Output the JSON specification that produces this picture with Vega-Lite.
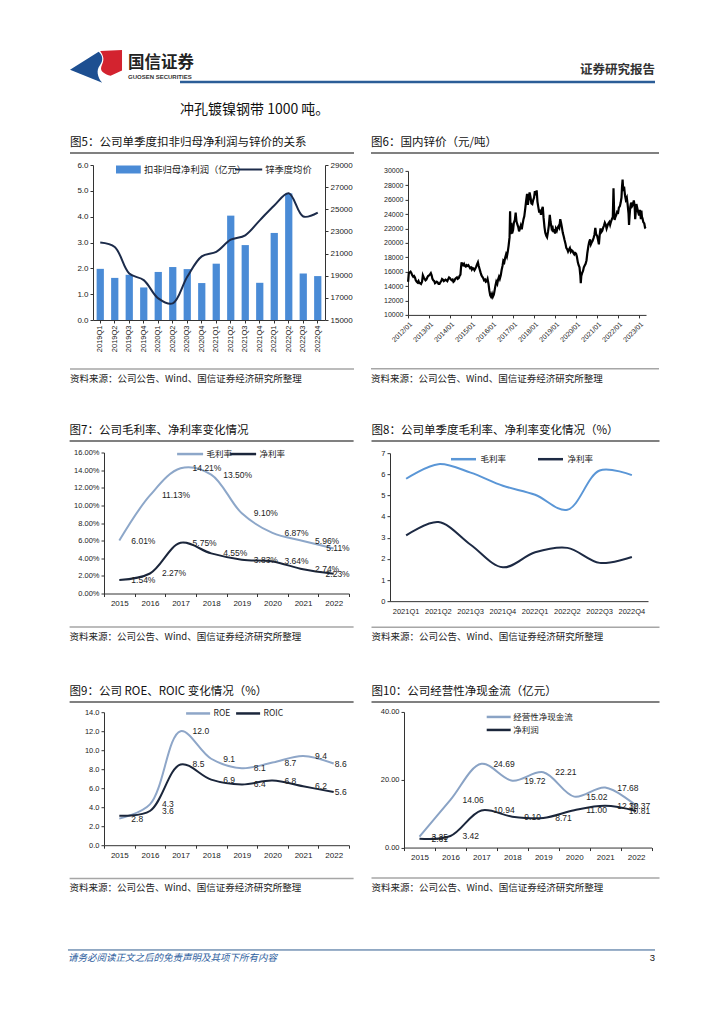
{
"$schema": "https://vega.github.io/schema/vega-lite/v6.json",
"background": "white",
"padding": {"left": 52, "top": 40, "right": 10, "bottom": 5},
"spacing": 0,
"resolve": {"scale": {"color": "independent", "stroke": "independent"}, "legend": {"color": "independent", "stroke": "independent"}},
"vconcat": [
{
 "width": 603, "height": 91,
 "data": {"values": [{}]},
 "layer": [
  {"mark": {"type": "rule", "opacity": 0}, "encoding": {"x": {"datum": 0, "type": "quantitative", "scale": {"domain": [0, 100]}, "axis": null}, "x2": {"datum": 1}, "y": {"datum": 100, "type": "quantitative", "scale": {"domain": [0, 100]}, "axis": null}}},
  {"mark": {"type": "point", "shape": "M-1,0.13 L0.1,-0.57 C0.25,-0.45 0.3,-0.25 0.15,-0.05 C0.0,0.15 0.05,0.4 0.24,0.63 Z", "size": 2704, "filled": true, "color": "#1D4F91", "opacity": 1, "strokeWidth": 0},
   "encoding": {"x": {"datum": 7.3, "type": "quantitative", "scale": {"domain": [0, 100]}, "axis": null}, "y": {"datum": 70.9, "type": "quantitative", "scale": {"domain": [0, 100]}, "axis": null}}},
  {"mark": {"type": "point", "shape": "M0.16,-0.6 L1,-0.63 L1,0.15 L0.56,0.36 C0.35,0.3 0.15,0.2 0.2,0.02 C0.25,-0.15 0.38,-0.3 0.16,-0.6 Z", "size": 2704, "filled": true, "color": "#D3232F", "opacity": 1, "strokeWidth": 0},
   "encoding": {"x": {"datum": 7.3, "type": "quantitative", "scale": {"domain": [0, 100]}, "axis": null}, "y": {"datum": 70.9, "type": "quantitative", "scale": {"domain": [0, 100]}, "axis": null}}},
  {"mark": {"type": "text", "text": "国信证券", "align": "left", "baseline": "middle", "fontSize": 16.5, "fontWeight": "bold", "font": "Noto Sans CJK SC", "color": "#222"},
   "encoding": {"x": {"datum": 12.6, "type": "quantitative", "scale": {"domain": [0, 100]}, "axis": null}, "y": {"datum": 74.7, "type": "quantitative", "scale": {"domain": [0, 100]}, "axis": null}}},
  {"mark": {"type": "text", "text": "GUOSEN SECURITIES", "align": "left", "baseline": "middle", "fontSize": 6, "fontWeight": "bold", "font": "Liberation Sans", "color": "#333"},
   "encoding": {"x": {"datum": 12.6, "type": "quantitative", "scale": {"domain": [0, 100]}, "axis": null}, "y": {"datum": 59.3, "type": "quantitative", "scale": {"domain": [0, 100]}, "axis": null}}},
  {"mark": {"type": "text", "text": "证券研究报告", "align": "right", "baseline": "middle", "fontSize": 12.5, "fontWeight": "bold", "font": "Noto Sans CJK SC", "color": "#333"},
   "encoding": {"x": {"datum": 100, "type": "quantitative", "scale": {"domain": [0, 100]}, "axis": null}, "y": {"datum": 67.0, "type": "quantitative", "scale": {"domain": [0, 100]}, "axis": null}}},
  {"mark": {"type": "rule", "color": "#2B5D97", "strokeWidth": 2.5},
   "encoding": {"x": {"datum": 21.23, "type": "quantitative", "scale": {"domain": [0, 100]}, "axis": null}, "x2": {"datum": 100}, "y": {"datum": 53.8, "type": "quantitative", "scale": {"domain": [0, 100]}, "axis": null}}},
  {"mark": {"type": "text", "text": "冲孔镀镍钢带 1000 吨。", "align": "left", "baseline": "middle", "fontSize": 14, "font": "Noto Sans CJK SC", "color": "#111"},
   "encoding": {"x": {"datum": 21.23, "type": "quantitative", "scale": {"domain": [0, 100]}, "axis": null}, "y": {"datum": 23.1, "type": "quantitative", "scale": {"domain": [0, 100]}, "axis": null}}}
 ]
},
{
 "spacing": 32,
 "resolve": {"scale": {"color": "independent", "stroke": "independent"}, "legend": {"color": "independent", "stroke": "independent"}},
 "vconcat": [
  {
   "spacing": 15,
   "resolve": {"scale": {"color": "independent", "stroke": "independent"}, "legend": {"color": "independent", "stroke": "independent"}},
   "hconcat": [
    {"width": 1, "height": 1, "data": {"values": [{}]}, "layer": [{"mark": {"type": "rule", "opacity": 0}, "encoding": {"x": {"datum": 0, "type": "quantitative", "scale": {"domain": [0, 1]}, "axis": null}, "x2": {"datum": 1}, "y": {"datum": 0.5, "type": "quantitative", "scale": {"domain": [0, 1]}, "axis": null}}}]},
    {
     "spacing": 7,
     "resolve": {"scale": {"color": "independent", "stroke": "independent"}, "legend": {"color": "independent", "stroke": "independent"}},
     "vconcat": [
      {"width": 232, "height": 23, "data": {"values": [{}]},
       "layer": [
        {"mark": {"type": "rule", "opacity": 0}, "encoding": {"x": {"datum": -0.09914, "type": "quantitative", "scale": {"domain": [0, 1]}, "axis": null}, "x2": {"datum": 0}, "y": {"datum": 100, "type": "quantitative", "scale": {"domain": [0, 100]}, "axis": null}}},
        {"mark": {"type": "text", "text": "图5：公司单季度扣非归母净利润与锌价的关系", "align": "left", "baseline": "middle", "fontSize": 11.5, "font": "Noto Sans CJK SC", "color": "#111"}, "encoding": {"x": {"datum": -0.09914, "type": "quantitative", "scale": {"domain": [0, 1]}, "axis": null}, "y": {"datum": 47.8, "type": "quantitative", "scale": {"domain": [0, 100]}, "axis": null}}},
        {"mark": {"type": "rule", "color": "#808080", "strokeWidth": 2}, "encoding": {"x": {"datum": -0.09914, "type": "quantitative", "scale": {"domain": [0, 1]}, "axis": null}, "x2": {"datum": 1.125}, "y": {"datum": 4.35, "type": "quantitative", "scale": {"domain": [0, 100]}, "axis": null}}}
       ]},
      {"width": 232, "height": 155,
       "data": {"values": [
        {"quarter": "2019Q1", "profit": 1.98, "zinc": 22000},
        {"quarter": "2019Q2", "profit": 1.63, "zinc": 21600},
        {"quarter": "2019Q3", "profit": 1.75, "zinc": 19200},
        {"quarter": "2019Q4", "profit": 1.26, "zinc": 18600},
        {"quarter": "2020Q1", "profit": 1.86, "zinc": 16950},
        {"quarter": "2020Q2", "profit": 2.05, "zinc": 16500},
        {"quarter": "2020Q3", "profit": 1.97, "zinc": 18900},
        {"quarter": "2020Q4", "profit": 1.43, "zinc": 20750},
        {"quarter": "2021Q1", "profit": 2.18, "zinc": 21150},
        {"quarter": "2021Q2", "profit": 4.04, "zinc": 22250},
        {"quarter": "2021Q3", "profit": 2.90, "zinc": 22650},
        {"quarter": "2021Q4", "profit": 1.44, "zinc": 24000},
        {"quarter": "2022Q1", "profit": 3.37, "zinc": 25350},
        {"quarter": "2022Q2", "profit": 4.90, "zinc": 26450},
        {"quarter": "2022Q3", "profit": 1.80, "zinc": 24350},
        {"quarter": "2022Q4", "profit": 1.70, "zinc": 24700}
       ]},
       "layer": [
        {"mark": {"type": "bar"},
         "encoding": {
          "x": {"field": "quarter", "type": "ordinal", "scale": {"paddingInner": 0.5, "paddingOuter": 0.25}, "axis": {"labelAngle": -90, "labelOverlap": false, "minExtent": 41, "maxExtent": 41, "labelFontSize": 7.5}},
          "y": {"field": "profit", "type": "quantitative", "scale": {"domain": [0, 6]}, "axis": {"values": [0, 1, 2, 3, 4, 5, 6], "format": ".1f", "labelOverlap": false, "minExtent": 23, "maxExtent": 23}},
          "color": {"datum": "扣非归母净利润（亿元）", "type": "nominal", "scale": {"range": ["#4A8BD6"]}, "legend": {"title": null, "orient": "none", "legendX": 30.4, "legendY": -0.5, "symbolType": "M-3.1,-1L3.1,-1L3.1,1L-3.1,1Z", "symbolSize": 64, "labelOffset": 10.5, "labelFontSize": 9.3}}
         }},
        {"mark": {"type": "line", "interpolate": "catmull-rom", "strokeWidth": 2},
         "encoding": {
          "x": {"field": "quarter", "type": "ordinal"},
          "y": {"field": "zinc", "type": "quantitative", "scale": {"domain": [15000, 29000]}, "axis": {"orient": "right", "values": [15000, 17000, 19000, 21000, 23000, 25000, 27000, 29000], "format": "d", "labelOverlap": false, "minExtent": 29, "maxExtent": 29}},
          "stroke": {"datum": "锌季度均价", "type": "nominal", "scale": {"range": ["#1C2B4A"]}, "legend": {"title": null, "orient": "none", "legendX": 150.6, "legendY": -0.5, "symbolType": "M-3.4,0L3.4,0", "symbolSize": 64, "symbolStrokeWidth": 2, "labelOffset": 11.6, "labelFontSize": 9.3}}
         }}
       ],
       "resolve": {"scale": {"y": "independent"}}
      },
      {"width": 232, "height": 19, "data": {"values": [{}]},
       "layer": [
        {"mark": {"type": "rule", "color": "#a6a6a6", "strokeWidth": 1.5}, "encoding": {"x": {"datum": -0.09914, "type": "quantitative", "scale": {"domain": [0, 1]}, "axis": null}, "x2": {"datum": 1.125}, "y": {"datum": 94.7, "type": "quantitative", "scale": {"domain": [0, 100]}, "axis": null}}},
        {"mark": {"type": "text", "text": "资料来源：公司公告、Wind、国信证券经济研究所整理", "align": "left", "baseline": "middle", "fontSize": 9.5, "font": "Noto Sans CJK SC", "color": "#222"}, "encoding": {"x": {"datum": -0.09914, "type": "quantitative", "scale": {"domain": [0, 1]}, "axis": null}, "y": {"datum": 42.1, "type": "quantitative", "scale": {"domain": [0, 100]}, "axis": null}}}
       ]}
     ]
    },
    {
     "spacing": 12.9,
     "resolve": {"scale": {"color": "independent", "stroke": "independent"}, "legend": {"color": "independent", "stroke": "independent"}},
     "vconcat": [
      {"width": 238, "height": 23, "data": {"values": [{}]},
       "layer": [
        {"mark": {"type": "rule", "opacity": 0}, "encoding": {"x": {"datum": -0.15546, "type": "quantitative", "scale": {"domain": [0, 1]}, "axis": null}, "x2": {"datum": 0}, "y": {"datum": 100, "type": "quantitative", "scale": {"domain": [0, 100]}, "axis": null}}},
        {"mark": {"type": "text", "text": "图6：国内锌价（元/吨）", "align": "left", "baseline": "middle", "fontSize": 11.5, "font": "Noto Sans CJK SC", "color": "#111"}, "encoding": {"x": {"datum": -0.15546, "type": "quantitative", "scale": {"domain": [0, 1]}, "axis": null}, "y": {"datum": 47.8, "type": "quantitative", "scale": {"domain": [0, 100]}, "axis": null}}},
        {"mark": {"type": "rule", "color": "#808080", "strokeWidth": 2}, "encoding": {"x": {"datum": -0.15546, "type": "quantitative", "scale": {"domain": [0, 1]}, "axis": null}, "x2": {"datum": 1.05462}, "y": {"datum": 4.35, "type": "quantitative", "scale": {"domain": [0, 100]}, "axis": null}}}
       ]},
      {"width": 238, "height": 144,
       "data": {"values": [
{"date":"2012-01-03","price":14600},{"date":"2012-01-15","price":15800},{"date":"2012-02-01","price":15900},{"date":"2012-02-15","price":16000},{"date":"2012-03-01","price":15800},{"date":"2012-03-15","price":15500},{"date":"2012-04-01","price":15300},{"date":"2012-04-15","price":15400},{"date":"2012-05-01","price":15200},{"date":"2012-05-15","price":14800},{"date":"2012-06-01","price":14600},{"date":"2012-06-15","price":14500},{"date":"2012-07-01","price":14700},{"date":"2012-07-15","price":14400},{"date":"2012-08-01","price":14400},{"date":"2012-08-15","price":14300},{"date":"2012-09-01","price":14600},{"date":"2012-09-15","price":15500},{"date":"2012-10-01","price":15200},{"date":"2012-10-15","price":15000},{"date":"2012-11-01","price":14800},{"date":"2012-11-15","price":14900},{"date":"2012-12-01","price":15200},{"date":"2012-12-15","price":15400},
{"date":"2013-01-01","price":15500},{"date":"2013-01-15","price":15600},{"date":"2013-02-01","price":15800},{"date":"2013-02-15","price":15500},{"date":"2013-03-01","price":15000},{"date":"2013-03-15","price":14800},{"date":"2013-04-01","price":14700},{"date":"2013-04-15","price":14400},{"date":"2013-05-01","price":14500},{"date":"2013-05-15","price":14600},{"date":"2013-06-01","price":14500},{"date":"2013-06-15","price":14300},{"date":"2013-07-01","price":14300},{"date":"2013-07-15","price":14500},{"date":"2013-08-01","price":14700},{"date":"2013-08-15","price":15000},{"date":"2013-09-01","price":14900},{"date":"2013-09-15","price":14700},{"date":"2013-10-01","price":14800},{"date":"2013-10-15","price":14900},{"date":"2013-11-01","price":14800},{"date":"2013-11-15","price":14700},{"date":"2013-12-01","price":15000},{"date":"2013-12-15","price":15200},
{"date":"2014-01-01","price":15100},{"date":"2014-01-15","price":14900},{"date":"2014-02-01","price":14800},{"date":"2014-02-15","price":14900},{"date":"2014-03-01","price":14600},{"date":"2014-03-15","price":14700},{"date":"2014-04-01","price":15000},{"date":"2014-04-15","price":15100},{"date":"2014-05-01","price":15200},{"date":"2014-05-15","price":15000},{"date":"2014-06-01","price":15100},{"date":"2014-06-15","price":15400},{"date":"2014-07-01","price":15600},{"date":"2014-07-10","price":16500},{"date":"2014-07-20","price":17300},{"date":"2014-08-01","price":17000},{"date":"2014-08-15","price":16900},{"date":"2014-09-01","price":17100},{"date":"2014-09-15","price":16800},{"date":"2014-10-01","price":16700},{"date":"2014-10-15","price":16900},{"date":"2014-11-01","price":16800},{"date":"2014-11-15","price":16900},{"date":"2014-12-01","price":16700},{"date":"2014-12-15","price":16500},
{"date":"2015-01-01","price":16600},{"date":"2015-01-15","price":16300},{"date":"2015-02-01","price":16500},{"date":"2015-02-15","price":16400},{"date":"2015-03-01","price":16200},{"date":"2015-03-15","price":16400},{"date":"2015-04-01","price":16700},{"date":"2015-04-15","price":17000},{"date":"2015-05-01","price":17300},{"date":"2015-05-15","price":16800},{"date":"2015-06-01","price":16300},{"date":"2015-06-15","price":15900},{"date":"2015-07-01","price":15500},{"date":"2015-07-15","price":15300},{"date":"2015-08-01","price":15100},{"date":"2015-08-15","price":14800},{"date":"2015-09-01","price":14900},{"date":"2015-09-15","price":14600},{"date":"2015-10-01","price":14700},{"date":"2015-10-15","price":15000},{"date":"2015-11-01","price":14300},{"date":"2015-11-15","price":13400},{"date":"2015-12-01","price":12700},{"date":"2015-12-15","price":12500},
{"date":"2016-01-01","price":12900},{"date":"2016-01-15","price":12500},{"date":"2016-02-01","price":12800},{"date":"2016-02-15","price":13400},{"date":"2016-03-01","price":14100},{"date":"2016-03-15","price":14600},{"date":"2016-04-01","price":14300},{"date":"2016-04-15","price":14900},{"date":"2016-05-01","price":15300},{"date":"2016-05-15","price":15000},{"date":"2016-06-01","price":15500},{"date":"2016-06-15","price":16200},{"date":"2016-07-01","price":16800},{"date":"2016-07-15","price":17500},{"date":"2016-08-01","price":17300},{"date":"2016-08-15","price":17900},{"date":"2016-09-01","price":18400},{"date":"2016-09-15","price":18100},{"date":"2016-10-01","price":18800},{"date":"2016-10-15","price":19600},{"date":"2016-11-01","price":20800},{"date":"2016-11-10","price":24400},{"date":"2016-11-20","price":21200},{"date":"2016-12-01","price":22800},{"date":"2016-12-15","price":21300},
{"date":"2017-01-01","price":21800},{"date":"2017-01-15","price":22800},{"date":"2017-02-01","price":23200},{"date":"2017-02-15","price":24200},{"date":"2017-03-01","price":23000},{"date":"2017-03-15","price":22600},{"date":"2017-04-01","price":22200},{"date":"2017-04-15","price":21600},{"date":"2017-05-01","price":22000},{"date":"2017-05-15","price":22400},{"date":"2017-06-01","price":21900},{"date":"2017-06-15","price":22600},{"date":"2017-07-01","price":23300},{"date":"2017-07-15","price":23700},{"date":"2017-08-01","price":24800},{"date":"2017-08-15","price":25800},{"date":"2017-09-01","price":26800},{"date":"2017-09-15","price":25300},{"date":"2017-10-01","price":26200},{"date":"2017-10-15","price":27000},{"date":"2017-11-01","price":26300},{"date":"2017-11-15","price":25500},{"date":"2017-12-01","price":25400},{"date":"2017-12-15","price":25900},
{"date":"2018-01-01","price":26300},{"date":"2018-01-15","price":27200},{"date":"2018-02-01","price":26600},{"date":"2018-02-15","price":27300},{"date":"2018-03-01","price":25700},{"date":"2018-03-15","price":25000},{"date":"2018-04-01","price":24200},{"date":"2018-04-15","price":24600},{"date":"2018-05-01","price":23900},{"date":"2018-05-15","price":24600},{"date":"2018-06-01","price":25000},{"date":"2018-06-15","price":23500},{"date":"2018-07-01","price":22200},{"date":"2018-07-15","price":21400},{"date":"2018-08-01","price":21000},{"date":"2018-08-15","price":20800},{"date":"2018-09-01","price":21600},{"date":"2018-09-15","price":22400},{"date":"2018-10-01","price":23900},{"date":"2018-10-15","price":22900},{"date":"2018-11-01","price":22100},{"date":"2018-11-15","price":22400},{"date":"2018-12-01","price":21500},{"date":"2018-12-15","price":21900},
{"date":"2019-01-01","price":21300},{"date":"2019-01-15","price":22000},{"date":"2019-02-01","price":21700},{"date":"2019-02-15","price":22100},{"date":"2019-03-01","price":22300},{"date":"2019-03-15","price":22100},{"date":"2019-04-01","price":23300},{"date":"2019-04-15","price":22800},{"date":"2019-05-01","price":22100},{"date":"2019-05-15","price":21400},{"date":"2019-06-01","price":20900},{"date":"2019-06-15","price":20400},{"date":"2019-07-01","price":19900},{"date":"2019-07-15","price":19300},{"date":"2019-08-01","price":19100},{"date":"2019-08-15","price":18800},{"date":"2019-09-01","price":19100},{"date":"2019-09-15","price":19300},{"date":"2019-10-01","price":18800},{"date":"2019-10-15","price":19000},{"date":"2019-11-01","price":18900},{"date":"2019-11-15","price":18600},{"date":"2019-12-01","price":18400},{"date":"2019-12-15","price":18600},
{"date":"2020-01-01","price":18500},{"date":"2020-01-15","price":18100},{"date":"2020-02-01","price":17300},{"date":"2020-02-15","price":16900},{"date":"2020-03-01","price":16600},{"date":"2020-03-15","price":15500},{"date":"2020-03-23","price":14400},{"date":"2020-04-01","price":15400},{"date":"2020-04-15","price":15800},{"date":"2020-05-01","price":16100},{"date":"2020-05-15","price":16600},{"date":"2020-06-01","price":16900},{"date":"2020-06-15","price":17100},{"date":"2020-07-01","price":17600},{"date":"2020-07-15","price":18600},{"date":"2020-08-01","price":19500},{"date":"2020-08-15","price":20100},{"date":"2020-09-01","price":20500},{"date":"2020-09-15","price":19800},{"date":"2020-10-01","price":20100},{"date":"2020-10-15","price":20300},{"date":"2020-11-01","price":20700},{"date":"2020-11-15","price":21100},{"date":"2020-12-01","price":22100},{"date":"2020-12-15","price":21200},
{"date":"2021-01-01","price":21000},{"date":"2021-01-15","price":20500},{"date":"2021-02-01","price":19800},{"date":"2021-02-15","price":21100},{"date":"2021-03-01","price":22000},{"date":"2021-03-15","price":21500},{"date":"2021-04-01","price":21700},{"date":"2021-04-15","price":22100},{"date":"2021-05-01","price":22400},{"date":"2021-05-15","price":22800},{"date":"2021-06-01","price":22500},{"date":"2021-06-15","price":22000},{"date":"2021-07-01","price":22400},{"date":"2021-07-15","price":22700},{"date":"2021-08-01","price":22900},{"date":"2021-08-15","price":22500},{"date":"2021-09-01","price":23000},{"date":"2021-09-15","price":23300},{"date":"2021-10-01","price":23600},{"date":"2021-10-13","price":27600},{"date":"2021-10-25","price":24000},{"date":"2021-11-01","price":23200},{"date":"2021-11-15","price":23600},{"date":"2021-12-01","price":23900},{"date":"2021-12-15","price":24300},
{"date":"2022-01-01","price":24200},{"date":"2022-01-15","price":24900},{"date":"2022-02-01","price":25100},{"date":"2022-02-15","price":25600},{"date":"2022-03-01","price":26300},{"date":"2022-03-10","price":27800},{"date":"2022-03-20","price":28800},{"date":"2022-04-01","price":27200},{"date":"2022-04-15","price":27800},{"date":"2022-05-01","price":26600},{"date":"2022-05-15","price":26000},{"date":"2022-06-01","price":26300},{"date":"2022-06-15","price":25400},{"date":"2022-07-01","price":24100},{"date":"2022-07-10","price":22500},{"date":"2022-07-20","price":23800},{"date":"2022-08-01","price":25000},{"date":"2022-08-15","price":25600},{"date":"2022-09-01","price":25100},{"date":"2022-09-15","price":25300},{"date":"2022-10-01","price":25900},{"date":"2022-10-15","price":25200},{"date":"2022-10-25","price":23300},{"date":"2022-11-01","price":24000},{"date":"2022-11-15","price":25400},{"date":"2022-12-01","price":24800},{"date":"2022-12-15","price":24300},
{"date":"2023-01-01","price":23800},{"date":"2023-01-15","price":24600},{"date":"2023-02-01","price":23300},{"date":"2023-02-10","price":24500},{"date":"2023-02-20","price":23600},{"date":"2023-03-01","price":23400},{"date":"2023-03-15","price":22900},{"date":"2023-04-01","price":22700},{"date":"2023-04-15","price":22100},{"date":"2023-04-25","price":22000}
       ]},
       "mark": {"type": "line", "color": "#000000", "strokeWidth": 2.2},
       "encoding": {
        "x": {"field": "date", "type": "temporal", "scale": {"type": "utc", "domain": [{"year": 2012, "month": 1, "date": 1, "utc": true}, {"year": 2023, "month": 5, "date": 1, "utc": true}]}, "axis": {"format": "%Y/%m", "tickCount": {"interval": "year", "step": 1}, "labelAngle": -45, "labelOverlap": false, "minExtent": 39.4, "maxExtent": 39.4, "labelFontSize": 7}},
        "y": {"field": "price", "type": "quantitative", "scale": {"domain": [10000, 30000]}, "axis": {"values": [10000, 12000, 14000, 16000, 18000, 20000, 22000, 24000, 26000, 28000, 30000], "format": "d", "labelOverlap": false, "minExtent": 37, "maxExtent": 37, "labelFontSize": 7}}
       }
      },
      {"width": 238, "height": 19, "data": {"values": [{}]},
       "layer": [
        {"mark": {"type": "rule", "color": "#a6a6a6", "strokeWidth": 1.5}, "encoding": {"x": {"datum": -0.15546, "type": "quantitative", "scale": {"domain": [0, 1]}, "axis": null}, "x2": {"datum": 1.05462}, "y": {"datum": 94.7, "type": "quantitative", "scale": {"domain": [0, 100]}, "axis": null}}},
        {"mark": {"type": "text", "text": "资料来源：公司公告、Wind、国信证券经济研究所整理", "align": "left", "baseline": "middle", "fontSize": 9.5, "font": "Noto Sans CJK SC", "color": "#222"}, "encoding": {"x": {"datum": -0.15546, "type": "quantitative", "scale": {"domain": [0, 1]}, "axis": null}, "y": {"datum": 42.1, "type": "quantitative", "scale": {"domain": [0, 100]}, "axis": null}}}
       ]}
     ]
    }
   ]
  },
  {
   "spacing": 15,
   "resolve": {"scale": {"color": "independent", "stroke": "independent"}, "legend": {"color": "independent", "stroke": "independent"}},
   "hconcat": [
    {"width": 1, "height": 1, "data": {"values": [{}]}, "layer": [{"mark": {"type": "rule", "opacity": 0}, "encoding": {"x": {"datum": 0, "type": "quantitative", "scale": {"domain": [0, 1]}, "axis": null}, "x2": {"datum": 1}, "y": {"datum": 0.5, "type": "quantitative", "scale": {"domain": [0, 1]}, "axis": null}}}]},
    {
     "spacing": 5.5,
     "resolve": {"scale": {"color": "independent", "stroke": "independent"}, "legend": {"color": "independent", "stroke": "independent"}},
     "vconcat": [
      {"width": 245, "height": 23, "data": {"values": [{}]},
       "layer": [
        {"mark": {"type": "rule", "opacity": 0}, "encoding": {"x": {"datum": -0.14041, "type": "quantitative", "scale": {"domain": [0, 1]}, "axis": null}, "x2": {"datum": 0}, "y": {"datum": 100, "type": "quantitative", "scale": {"domain": [0, 100]}, "axis": null}}},
        {"mark": {"type": "text", "text": "图7：公司毛利率、净利率变化情况", "align": "left", "baseline": "middle", "fontSize": 11.5, "font": "Noto Sans CJK SC", "color": "#111"}, "encoding": {"x": {"datum": -0.14041, "type": "quantitative", "scale": {"domain": [0, 1]}, "axis": null}, "y": {"datum": 47.8, "type": "quantitative", "scale": {"domain": [0, 100]}, "axis": null}}},
        {"mark": {"type": "rule", "color": "#808080", "strokeWidth": 2}, "encoding": {"x": {"datum": -0.14041, "type": "quantitative", "scale": {"domain": [0, 1]}, "axis": null}, "x2": {"datum": 1.01878}, "y": {"datum": 4.35, "type": "quantitative", "scale": {"domain": [0, 100]}, "axis": null}}}
       ]},
      {"width": 245, "height": 141,
       "data": {"values": [
        {"year": "2015", "series": "毛利率", "value": 0.0601},
        {"year": "2016", "series": "毛利率", "value": 0.1113},
        {"year": "2017", "series": "毛利率", "value": 0.1421},
        {"year": "2018", "series": "毛利率", "value": 0.1350},
        {"year": "2019", "series": "毛利率", "value": 0.0910},
        {"year": "2020", "series": "毛利率", "value": 0.0687},
        {"year": "2021", "series": "毛利率", "value": 0.0596},
        {"year": "2022", "series": "毛利率", "value": 0.0511},
        {"year": "2015", "series": "净利率", "value": 0.0154},
        {"year": "2016", "series": "净利率", "value": 0.0227},
        {"year": "2017", "series": "净利率", "value": 0.0575},
        {"year": "2018", "series": "净利率", "value": 0.0455},
        {"year": "2019", "series": "净利率", "value": 0.0383},
        {"year": "2020", "series": "净利率", "value": 0.0364},
        {"year": "2021", "series": "净利率", "value": 0.0274},
        {"year": "2022", "series": "净利率", "value": 0.0223}
       ]},
       "encoding": {
        "x": {"field": "year", "type": "ordinal", "scale": {"type": "band", "paddingInner": 0, "paddingOuter": 0}, "axis": {"labelAngle": 0, "tickBand": "extent", "minExtent": 26.8, "maxExtent": 26.8, "labelPadding": 3, "labelFontSize": 8}},
        "y": {"field": "value", "type": "quantitative", "scale": {"domain": [0, 0.16]}, "axis": {"values": [0, 0.02, 0.04, 0.06, 0.08, 0.1, 0.12, 0.14, 0.16], "format": ".2%", "labelOverlap": false, "minExtent": 34.4, "maxExtent": 34.4, "labelFontSize": 7.5}}
       },
       "layer": [
        {"mark": {"type": "line", "interpolate": "catmull-rom", "strokeWidth": 2},
         "encoding": {"color": {"field": "series", "type": "nominal", "scale": {"domain": ["毛利率", "净利率"], "range": ["#8DA7C9", "#1B263B"]}, "legend": {"title": null, "orient": "none", "direction": "horizontal", "legendX": 80.6, "legendY": -4.2, "symbolType": "M-3.25,0L3.25,0", "symbolSize": 64, "symbolStrokeWidth": 2.5, "columnPadding": -8, "labelOffset": 11}}}},
        {"transform": [{"filter": "datum.year != '2022'"}], "mark": {"type": "text", "align": "left", "dx": 12}, "encoding": {"text": {"field": "value", "format": ".2%"}}},
        {"transform": [{"filter": "datum.year == '2022'"}], "mark": {"type": "text", "align": "right", "dx": 16}, "encoding": {"text": {"field": "value", "format": ".2%"}}}
       ]
      },
      {"width": 245, "height": 21, "data": {"values": [{}]},
       "layer": [
        {"mark": {"type": "rule", "color": "#a6a6a6", "strokeWidth": 1.5}, "encoding": {"x": {"datum": -0.14041, "type": "quantitative", "scale": {"domain": [0, 1]}, "axis": null}, "x2": {"datum": 1.01878}, "y": {"datum": 95.2, "type": "quantitative", "scale": {"domain": [0, 100]}, "axis": null}}},
        {"mark": {"type": "text", "text": "资料来源：公司公告、Wind、国信证券经济研究所整理", "align": "left", "baseline": "middle", "fontSize": 9.5, "font": "Noto Sans CJK SC", "color": "#222"}, "encoding": {"x": {"datum": -0.14041, "type": "quantitative", "scale": {"domain": [0, 1]}, "axis": null}, "y": {"datum": 47.6, "type": "quantitative", "scale": {"domain": [0, 100]}, "axis": null}}}
       ]}
     ]
    },
    {
     "spacing": 7.15,
     "resolve": {"scale": {"color": "independent", "stroke": "independent"}, "legend": {"color": "independent", "stroke": "independent"}},
     "vconcat": [
      {"width": 258, "height": 23, "data": {"values": [{}]},
       "layer": [
        {"mark": {"type": "rule", "opacity": 0}, "encoding": {"x": {"datum": -0.07171, "type": "quantitative", "scale": {"domain": [0, 1]}, "axis": null}, "x2": {"datum": 0}, "y": {"datum": 100, "type": "quantitative", "scale": {"domain": [0, 100]}, "axis": null}}},
        {"mark": {"type": "text", "text": "图8：公司单季度毛利率、净利率变化情况（%）", "align": "left", "baseline": "middle", "fontSize": 11.5, "font": "Noto Sans CJK SC", "color": "#111"}, "encoding": {"x": {"datum": -0.07171, "type": "quantitative", "scale": {"domain": [0, 1]}, "axis": null}, "y": {"datum": 47.8, "type": "quantitative", "scale": {"domain": [0, 100]}, "axis": null}}},
        {"mark": {"type": "rule", "color": "#808080", "strokeWidth": 2}, "encoding": {"x": {"datum": -0.07171, "type": "quantitative", "scale": {"domain": [0, 1]}, "axis": null}, "x2": {"datum": 1.04457}, "y": {"datum": 4.35, "type": "quantitative", "scale": {"domain": [0, 100]}, "axis": null}}}
       ]},
      {"width": 258, "height": 148,
       "data": {"values": [
        {"quarter": "2021Q1", "series": "毛利率", "value": 5.79},
        {"quarter": "2021Q2", "series": "毛利率", "value": 6.48},
        {"quarter": "2021Q3", "series": "毛利率", "value": 6.08},
        {"quarter": "2021Q4", "series": "毛利率", "value": 5.46},
        {"quarter": "2022Q1", "series": "毛利率", "value": 5.03},
        {"quarter": "2022Q2", "series": "毛利率", "value": 4.32},
        {"quarter": "2022Q3", "series": "毛利率", "value": 6.18},
        {"quarter": "2022Q4", "series": "毛利率", "value": 5.96},
        {"quarter": "2021Q1", "series": "净利率", "value": 3.11},
        {"quarter": "2021Q2", "series": "净利率", "value": 3.74},
        {"quarter": "2021Q3", "series": "净利率", "value": 2.67},
        {"quarter": "2021Q4", "series": "净利率", "value": 1.60},
        {"quarter": "2022Q1", "series": "净利率", "value": 2.31},
        {"quarter": "2022Q2", "series": "净利率", "value": 2.52},
        {"quarter": "2022Q3", "series": "净利率", "value": 1.81},
        {"quarter": "2022Q4", "series": "净利率", "value": 2.09}
       ]},
       "mark": {"type": "line", "interpolate": "catmull-rom", "strokeWidth": 2},
       "encoding": {
        "x": {"field": "quarter", "type": "ordinal", "scale": {"type": "band", "paddingInner": 0, "paddingOuter": 0}, "axis": {"labelAngle": 0, "ticks": false, "labelPadding": 6, "labelOverlap": false, "minExtent": 17.55, "maxExtent": 17.55, "labelFontSize": 7.5}},
        "y": {"field": "value", "type": "quantitative", "scale": {"domain": [0, 7]}, "axis": {"values": [0, 1, 2, 3, 4, 5, 6, 7], "format": "d", "minExtent": 18.5, "maxExtent": 18.5, "labelFontSize": 7.5}},
        "color": {"field": "series", "type": "nominal", "scale": {"domain": ["毛利率", "净利率"], "range": ["#5A96D6", "#1D2A44"]}, "legend": {"title": null, "orient": "none", "direction": "horizontal", "legendX": 68, "legendY": 0.3, "symbolType": "M-3.125,0L3.125,0", "symbolSize": 64, "symbolStrokeWidth": 2.5, "columnPadding": 26, "labelOffset": 11.5}}
       }
      },
      {"width": 258, "height": 21, "data": {"values": [{}]},
       "layer": [
        {"mark": {"type": "rule", "color": "#a6a6a6", "strokeWidth": 1.5}, "encoding": {"x": {"datum": -0.07171, "type": "quantitative", "scale": {"domain": [0, 1]}, "axis": null}, "x2": {"datum": 1.04457}, "y": {"datum": 95.2, "type": "quantitative", "scale": {"domain": [0, 100]}, "axis": null}}},
        {"mark": {"type": "text", "text": "资料来源：公司公告、Wind、国信证券经济研究所整理", "align": "left", "baseline": "middle", "fontSize": 9.5, "font": "Noto Sans CJK SC", "color": "#222"}, "encoding": {"x": {"datum": -0.07171, "type": "quantitative", "scale": {"domain": [0, 1]}, "axis": null}, "y": {"datum": 47.6, "type": "quantitative", "scale": {"domain": [0, 100]}, "axis": null}}}
       ]}
     ]
    }
   ]
  },
  {
   "spacing": 15,
   "resolve": {"scale": {"color": "independent", "stroke": "independent"}, "legend": {"color": "independent", "stroke": "independent"}},
   "hconcat": [
    {"width": 1, "height": 1, "data": {"values": [{}]}, "layer": [{"mark": {"type": "rule", "opacity": 0}, "encoding": {"x": {"datum": 0, "type": "quantitative", "scale": {"domain": [0, 1]}, "axis": null}, "x2": {"datum": 1}, "y": {"datum": 0.5, "type": "quantitative", "scale": {"domain": [0, 1]}, "axis": null}}}]},
    {
     "spacing": 4.2,
     "resolve": {"scale": {"color": "independent", "stroke": "independent"}, "legend": {"color": "independent", "stroke": "independent"}},
     "vconcat": [
      {"width": 245, "height": 23, "data": {"values": [{}]},
       "layer": [
        {"mark": {"type": "rule", "opacity": 0}, "encoding": {"x": {"datum": -0.14041, "type": "quantitative", "scale": {"domain": [0, 1]}, "axis": null}, "x2": {"datum": 0}, "y": {"datum": 100, "type": "quantitative", "scale": {"domain": [0, 100]}, "axis": null}}},
        {"mark": {"type": "text", "text": "图9：公司 ROE、ROIC 变化情况（%）", "align": "left", "baseline": "middle", "fontSize": 11.5, "font": "Noto Sans CJK SC", "color": "#111"}, "encoding": {"x": {"datum": -0.14041, "type": "quantitative", "scale": {"domain": [0, 1]}, "axis": null}, "y": {"datum": 47.8, "type": "quantitative", "scale": {"domain": [0, 100]}, "axis": null}}},
        {"mark": {"type": "rule", "color": "#808080", "strokeWidth": 2}, "encoding": {"x": {"datum": -0.14041, "type": "quantitative", "scale": {"domain": [0, 1]}, "axis": null}, "x2": {"datum": 1.01878}, "y": {"datum": 4.35, "type": "quantitative", "scale": {"domain": [0, 100]}, "axis": null}}}
       ]},
      {"width": 245, "height": 133,
       "data": {"values": [
        {"year": "2015", "series": "ROE", "value": 2.8},
        {"year": "2016", "series": "ROE", "value": 4.3},
        {"year": "2017", "series": "ROE", "value": 12.0},
        {"year": "2018", "series": "ROE", "value": 9.1},
        {"year": "2019", "series": "ROE", "value": 8.1},
        {"year": "2020", "series": "ROE", "value": 8.7},
        {"year": "2021", "series": "ROE", "value": 9.4},
        {"year": "2022", "series": "ROE", "value": 8.6},
        {"year": "2015", "series": "ROIC", "value": 3.1},
        {"year": "2016", "series": "ROIC", "value": 3.6},
        {"year": "2017", "series": "ROIC", "value": 8.5},
        {"year": "2018", "series": "ROIC", "value": 6.9},
        {"year": "2019", "series": "ROIC", "value": 6.4},
        {"year": "2020", "series": "ROIC", "value": 6.8},
        {"year": "2021", "series": "ROIC", "value": 6.2},
        {"year": "2022", "series": "ROIC", "value": 5.6}
       ]},
       "encoding": {
        "x": {"field": "year", "type": "ordinal", "scale": {"type": "band", "paddingInner": 0, "paddingOuter": 0}, "axis": {"labelAngle": 0, "tickBand": "extent", "minExtent": 27.1, "maxExtent": 27.1, "labelPadding": 3, "labelFontSize": 8}},
        "y": {"field": "value", "type": "quantitative", "scale": {"domain": [0, 14]}, "axis": {"values": [0, 2, 4, 6, 8, 10, 12, 14], "format": ".1f", "labelOverlap": false, "minExtent": 34.4, "maxExtent": 34.4, "labelFontSize": 7.5}}
       },
       "layer": [
        {"mark": {"type": "line", "interpolate": "catmull-rom", "strokeWidth": 2},
         "encoding": {"color": {"field": "series", "type": "nominal", "scale": {"domain": ["ROE", "ROIC"], "range": ["#8EA6C8", "#1B263B"]}, "legend": {"title": null, "orient": "none", "direction": "horizontal", "legendX": 88.6, "legendY": -4.5, "symbolType": "M-3,0L3,0", "symbolSize": 64, "symbolStrokeWidth": 2.5, "columnPadding": 0, "labelOffset": 10}}}},
        {"transform": [{"filter": "datum.year != '2022' && !(datum.year == '2015' && datum.series == 'ROIC')"}], "mark": {"type": "text", "align": "left", "dx": 12}, "encoding": {"text": {"field": "value", "format": ".1f"}}},
        {"transform": [{"filter": "datum.year == '2022'"}], "mark": {"type": "text", "align": "right", "dx": 13}, "encoding": {"text": {"field": "value", "format": ".1f"}}}
       ]
      },
      {"width": 245, "height": 20, "data": {"values": [{}]},
       "layer": [
        {"mark": {"type": "rule", "color": "#a6a6a6", "strokeWidth": 1.5}, "encoding": {"x": {"datum": -0.14041, "type": "quantitative", "scale": {"domain": [0, 1]}, "axis": null}, "x2": {"datum": 1.01878}, "y": {"datum": 95, "type": "quantitative", "scale": {"domain": [0, 100]}, "axis": null}}},
        {"mark": {"type": "text", "text": "资料来源：公司公告、Wind、国信证券经济研究所整理", "align": "left", "baseline": "middle", "fontSize": 9.5, "font": "Noto Sans CJK SC", "color": "#222"}, "encoding": {"x": {"datum": -0.14041, "type": "quantitative", "scale": {"domain": [0, 1]}, "axis": null}, "y": {"datum": 45, "type": "quantitative", "scale": {"domain": [0, 100]}, "axis": null}}}
       ]}
     ]
    },
    {
     "spacing": 4.95,
     "resolve": {"scale": {"color": "independent", "stroke": "independent"}, "legend": {"color": "independent", "stroke": "independent"}},
     "vconcat": [
      {"width": 247.6, "height": 23, "data": {"values": [{}]},
       "layer": [
        {"mark": {"type": "rule", "opacity": 0}, "encoding": {"x": {"datum": -0.13126, "type": "quantitative", "scale": {"domain": [0, 1]}, "axis": null}, "x2": {"datum": 0}, "y": {"datum": 100, "type": "quantitative", "scale": {"domain": [0, 100]}, "axis": null}}},
        {"mark": {"type": "text", "text": "图10：公司经营性净现金流（亿元）", "align": "left", "baseline": "middle", "fontSize": 11.5, "font": "Noto Sans CJK SC", "color": "#111"}, "encoding": {"x": {"datum": -0.13126, "type": "quantitative", "scale": {"domain": [0, 1]}, "axis": null}, "y": {"datum": 47.8, "type": "quantitative", "scale": {"domain": [0, 100]}, "axis": null}}},
        {"mark": {"type": "rule", "color": "#808080", "strokeWidth": 2}, "encoding": {"x": {"datum": -0.13126, "type": "quantitative", "scale": {"domain": [0, 1]}, "axis": null}, "x2": {"datum": 1.03191}, "y": {"datum": 4.35, "type": "quantitative", "scale": {"domain": [0, 100]}, "axis": null}}}
       ]},
      {"width": 247.6, "height": 135.6,
       "data": {"values": [
        {"year": "2015", "series": "经营性净现金流", "value": 3.25},
        {"year": "2016", "series": "经营性净现金流", "value": 14.06},
        {"year": "2017", "series": "经营性净现金流", "value": 24.69},
        {"year": "2018", "series": "经营性净现金流", "value": 19.72},
        {"year": "2019", "series": "经营性净现金流", "value": 22.21},
        {"year": "2020", "series": "经营性净现金流", "value": 15.02},
        {"year": "2021", "series": "经营性净现金流", "value": 17.68},
        {"year": "2022", "series": "经营性净现金流", "value": 12.37},
        {"year": "2015", "series": "净利润", "value": 2.61},
        {"year": "2016", "series": "净利润", "value": 3.42},
        {"year": "2017", "series": "净利润", "value": 10.94},
        {"year": "2018", "series": "净利润", "value": 9.10},
        {"year": "2019", "series": "净利润", "value": 8.71},
        {"year": "2020", "series": "净利润", "value": 11.00},
        {"year": "2021", "series": "净利润", "value": 12.30},
        {"year": "2022", "series": "净利润", "value": 10.81}
       ]},
       "encoding": {
        "x": {"field": "year", "type": "ordinal", "scale": {"type": "band", "paddingInner": 0, "paddingOuter": 0}, "axis": {"labelAngle": 0, "tickBand": "extent", "minExtent": 23.75, "maxExtent": 23.75, "labelPadding": 3, "labelFontSize": 8}},
        "y": {"field": "value", "type": "quantitative", "scale": {"domain": [0, 40]}, "axis": {"values": [0, 20, 40], "format": ".2f", "minExtent": 32.5, "maxExtent": 32.5, "labelFontSize": 7.5}}
       },
       "layer": [
        {"mark": {"type": "line", "interpolate": "catmull-rom", "strokeWidth": 2},
         "encoding": {"color": {"field": "series", "type": "nominal", "scale": {"domain": ["经营性净现金流", "净利润"], "range": ["#8AA3C5", "#1B263B"]}, "legend": {"title": null, "orient": "none", "direction": "vertical", "legendX": 89.2, "legendY": -0.5, "symbolType": "M-3,0L3,0", "symbolSize": 64, "symbolStrokeWidth": 2.5, "rowPadding": 2, "labelOffset": 9}}}},
        {"transform": [{"filter": "datum.year != '2022'"}], "mark": {"type": "text", "align": "left", "dx": 12}, "encoding": {"text": {"field": "value", "format": ".2f"}}},
        {"transform": [{"filter": "datum.year == '2022'"}], "mark": {"type": "text", "align": "right", "dx": 14}, "encoding": {"text": {"field": "value", "format": ".2f"}}}
       ]
      },
      {"width": 247.6, "height": 20, "data": {"values": [{}]},
       "layer": [
        {"mark": {"type": "rule", "color": "#a6a6a6", "strokeWidth": 1.5}, "encoding": {"x": {"datum": -0.13126, "type": "quantitative", "scale": {"domain": [0, 1]}, "axis": null}, "x2": {"datum": 1.03191}, "y": {"datum": 95, "type": "quantitative", "scale": {"domain": [0, 100]}, "axis": null}}},
        {"mark": {"type": "text", "text": "资料来源：公司公告、Wind、国信证券经济研究所整理", "align": "left", "baseline": "middle", "fontSize": 9.5, "font": "Noto Sans CJK SC", "color": "#222"}, "encoding": {"x": {"datum": -0.13126, "type": "quantitative", "scale": {"domain": [0, 1]}, "axis": null}, "y": {"datum": 45, "type": "quantitative", "scale": {"domain": [0, 100]}, "axis": null}}}
       ]}
     ]
    }
   ]
  }
 ]
},
{
 "width": 603, "height": 73,
 "data": {"values": [{}]},
 "layer": [
  {"mark": {"type": "rule", "opacity": 0}, "encoding": {"x": {"datum": 0, "type": "quantitative", "scale": {"domain": [0, 100]}, "axis": null}, "x2": {"datum": 1}, "y": {"datum": 100, "type": "quantitative", "scale": {"domain": [0, 100]}, "axis": null}}},
  {"mark": {"type": "rule", "color": "#2F5C8F", "strokeWidth": 1},
   "encoding": {"x": {"datum": 2.65, "type": "quantitative", "scale": {"domain": [0, 100]}, "axis": null}, "x2": {"datum": 100}, "y": {"datum": 28.8, "type": "quantitative", "scale": {"domain": [0, 100]}, "axis": null}}},
  {"mark": {"type": "text", "text": "请务必阅读正文之后的免责声明及其项下所有内容", "align": "left", "baseline": "middle", "fontSize": 9.5, "fontStyle": "italic", "font": "Noto Sans CJK SC", "color": "#2E5E9E"},
   "encoding": {"x": {"datum": 2.65, "type": "quantitative", "scale": {"domain": [0, 100]}, "axis": null}, "y": {"datum": 17.8, "type": "quantitative", "scale": {"domain": [0, 100]}, "axis": null}}},
  {"mark": {"type": "text", "text": "3", "align": "right", "baseline": "middle", "fontSize": 9.5, "font": "Liberation Sans", "color": "#111"},
   "encoding": {"x": {"datum": 100, "type": "quantitative", "scale": {"domain": [0, 100]}, "axis": null}, "y": {"datum": 17.8, "type": "quantitative", "scale": {"domain": [0, 100]}, "axis": null}}}
 ]
}
],
"config": {
 "font": "Liberation Sans, Noto Sans CJK SC",
 "view": {"stroke": null, "fill": "transparent"},
 "axis": {"grid": false, "title": null, "labelFont": "Liberation Sans, Noto Sans CJK SC", "labelFontSize": 8, "labelColor": "#222", "domainColor": "#333", "tickColor": "#333", "tickSize": 3, "labelPadding": 2},
 "legend": {"labelFont": "Noto Sans CJK SC", "labelFontSize": 8.5, "labelColor": "#222", "padding": 0},
 "title": {"font": "Noto Sans CJK SC", "fontWeight": "normal", "color": "#111", "anchor": "start"},
 "text": {"font": "Liberation Sans", "fontSize": 8.5, "color": "#222"}
}
}
